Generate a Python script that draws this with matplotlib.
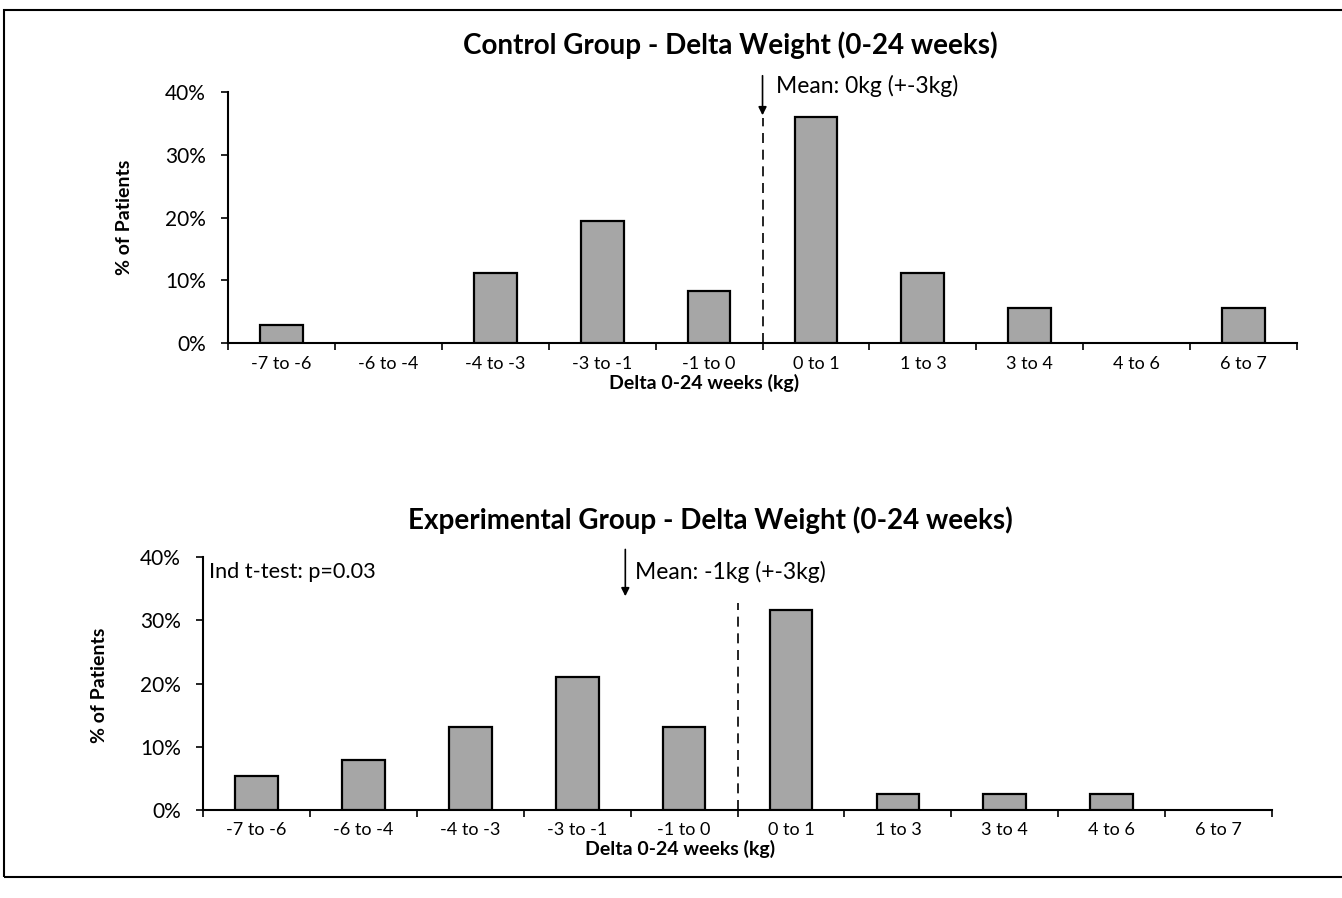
import matplotlib

matplotlib.use("Agg")
import matplotlib.pyplot as plt
from matplotlib.patches import Rectangle

plt.rcParams["font.family"] = ["Lato", "DejaVu Sans"]

# bins of weight change (kg) and % of patients in each
bins = ["-7 to -6", "-6 to -4", "-4 to -3", "-3 to -1", "-1 to 0",
        "0 to 1", "1 to 3", "3 to 4", "4 to 6", "6 to 7"]
control_pct = [2.8, 0, 11.1, 19.4, 8.3, 36.1, 11.1, 5.6, 0, 5.6]
experimental_pct = [5.3, 7.9, 13.2, 21.1, 13.2, 31.6, 2.6, 2.6, 2.6, 0]
y_ticks = [0, 10, 20, 30, 40]

BAR_COLOR = "#a6a6a6"


def draw_panel(ax, values):
    xs = range(len(bins))
    # empty bins get no outline, so they don't leave a stub on the axis
    widths = [1.6 if v > 0 else 0 for v in values]
    ax.bar(xs, values, width=0.4, color=BAR_COLOR, edgecolor="black",
           linewidth=widths, zorder=3)
    ax.set_xlim(-0.5, len(bins) - 0.5)
    ax.set_ylim(0, 40)
    ax.set_yticks(y_ticks)
    ax.set_yticklabels([f"{v}%" for v in y_ticks])
    # boundary ticks (major) and centered labels (minor)
    ax.set_xticks([i - 0.5 for i in range(len(bins) + 1)])
    ax.set_xticklabels([])
    ax.set_xticks(list(xs), minor=True)
    ax.set_xticklabels(bins, minor=True)
    ax.tick_params(axis="x", which="major", direction="out", length=5, width=1.2)
    ax.tick_params(axis="x", which="minor", length=0, pad=9, labelsize=13)
    ax.tick_params(axis="y", direction="out", length=5, width=1.2, pad=11,
                   labelsize=15)
    for side in ("top", "right"):
        ax.spines[side].set_visible(False)
    for side in ("left", "bottom"):
        ax.spines[side].set_linewidth(1.5)


def mean_marker(ax, x, y_top, y_tip):
    ax.annotate("", xy=(x, y_tip), xytext=(x, y_top),
                arrowprops=dict(arrowstyle="-|>", color="black", lw=1.2,
                                mutation_scale=12, shrinkA=0, shrinkB=0),
                annotation_clip=False)


fig = plt.figure(figsize=(13.42, 8.98), dpi=100)

# ── Control group ─────────────────────────────────────────────
ax1 = fig.add_axes([0.1699, 0.618, 0.7966, 0.2795])
draw_panel(ax1, control_pct)
ax1.plot([4.5, 4.5], [0, 35.8], color="black", linestyle=(0, (6, 4)),
         linewidth=1.2, zorder=2, clip_on=False)
mean_marker(ax1, 4.5, 42.6, 36.3)
ax1.text(4.63, 41.0, "Mean: 0kg (+-3kg)", fontsize=16.5, ha="left", va="center")

# ── Experimental group ────────────────────────────────────────
ax2 = fig.add_axes([0.1513, 0.098, 0.7966, 0.2817])
draw_panel(ax2, experimental_pct)
ax2.plot([4.5, 4.5], [0, 32.8], color="black", linestyle=(0, (6, 4)),
         linewidth=1.2, zorder=2, clip_on=False)
mean_marker(ax2, 3.45, 41.2, 33.8)
ax2.text(3.54, 37.7, "Mean: -1kg (+-3kg)", fontsize=16.5, ha="left", va="center")
ax2.text(-0.44, 37.7, "Ind t-test: p=0.03", fontsize=15.6, ha="left", va="center")

# titles and axis labels
fig.text(0.544, 0.950, "Control Group - Delta Weight (0-24 weeks)",
         fontsize=20, fontweight="bold", ha="center", va="center")
fig.text(0.529, 0.421, "Experimental Group - Delta Weight (0-24 weeks)",
         fontsize=20, fontweight="bold", ha="center", va="center")
fig.text(0.093, 0.758, "% of Patients", rotation=90, fontsize=14,
         fontweight="bold", ha="center", va="center")
fig.text(0.0745, 0.237, "% of Patients", rotation=90, fontsize=14,
         fontweight="bold", ha="center", va="center")
fig.text(0.525, 0.574, "Delta 0-24 weeks (kg)", fontsize=14,
         fontweight="bold", ha="center", va="center")
fig.text(0.507, 0.055, "Delta 0-24 weeks (kg)", fontsize=14,
         fontweight="bold", ha="center", va="center")

# frame around the figure, as in the scanned page
fig.patches.append(Rectangle((0.003, 0.023), 1.1, 0.966, transform=fig.transFigure,
                             fill=False, edgecolor="black", linewidth=1.5))

fig.savefig("out.png", dpi=100)
